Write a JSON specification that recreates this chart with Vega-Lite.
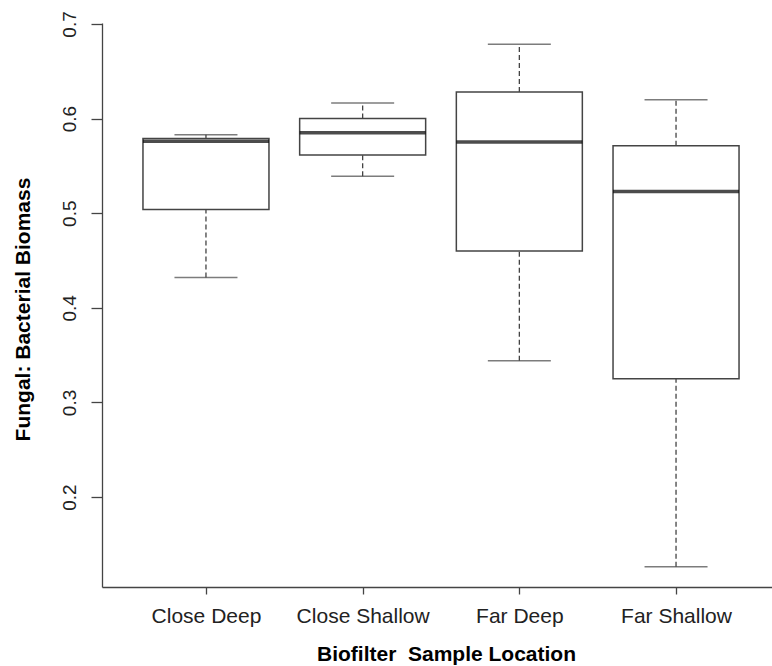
{
  "$schema": "https://vega.github.io/schema/vega-lite/v6.json",
  "width": 670,
  "height": 564,
  "autosize": {"type": "none"},
  "padding": {"left": 102, "top": 23, "right": 0, "bottom": 79},
  "background": "white",
  "config": {"view": {"stroke": null}, "font": "Liberation Sans"},
  "data": {"values": [
    {"loc": "Close Deep", "lo": 0.432, "q1": 0.504, "med": 0.576, "q3": 0.579, "hi": 0.583},
    {"loc": "Close Shallow", "lo": 0.539, "q1": 0.5615, "med": 0.585, "q3": 0.600, "hi": 0.6165},
    {"loc": "Far Deep", "lo": 0.344, "q1": 0.460, "med": 0.5753, "q3": 0.628, "hi": 0.6785},
    {"loc": "Far Shallow", "lo": 0.1263, "q1": 0.325, "med": 0.523, "q3": 0.5714, "hi": 0.620}
  ]},
  "encoding": {
    "x": {
      "field": "loc", "type": "nominal", "sort": null,
      "scale": {"type": "point", "padding": 0.638, "align": 0.52},
      "axis": {
        "title": "Biofilter\u00a0 Sample Location",
        "titleFontSize": 21, "titleFontWeight": "bold", "titleColor": "black",
        "titleX": 344, "titleY": 73, "titleAlign": "center", "titleBaseline": "alphabetic",
        "labelAngle": 0, "labelFontSize": 21, "labelBaseline": "alphabetic", "labelPadding": 28,
        "labelColor": "#222", "tickSize": 7, "tickColor": "#444", "domainColor": "#444",
        "tickWidth": 1.3, "domainWidth": 1.3, "grid": false
      }
    }
  },
  "layer": [
    {
      "mark": {"type": "rule", "strokeDash": [5, 3], "color": "#444", "strokeWidth": 1.3},
      "encoding": {
        "y": {
          "field": "lo", "type": "quantitative",
          "scale": {"domain": [0.105, 0.701], "nice": false, "zero": false},
          "axis": {
            "values": [0.2, 0.3, 0.4, 0.5, 0.6, 0.7], "format": ".1f",
            "title": "Fungal: Bacterial Biomass",
            "titleFontSize": 21, "titleFontWeight": "bold", "titleColor": "black",
            "titleAngle": 270, "titleX": -73, "titleY": 286, "titleAlign": "center", "titleBaseline": "alphabetic",
            "labelAngle": 270, "labelAlign": "center", "labelBaseline": "alphabetic",
            "labelFontSize": 19, "labelPadding": 16, "labelColor": "#222",
            "tickSize": 11, "tickColor": "#444", "domainColor": "#444",
            "tickWidth": 1.3, "domainWidth": 1.3, "grid": false
          }
        },
        "y2": {"field": "q1"}
      }
    },
    {
      "mark": {"type": "rule", "strokeDash": [5, 3], "color": "#444", "strokeWidth": 1.3},
      "encoding": {"y": {"field": "q3", "type": "quantitative"}, "y2": {"field": "hi"}}
    },
    {
      "mark": {"type": "tick", "orient": "horizontal", "size": 63, "thickness": 1.5, "color": "#444"},
      "encoding": {"y": {"field": "lo", "type": "quantitative"}}
    },
    {
      "mark": {"type": "tick", "orient": "horizontal", "size": 63, "thickness": 1.5, "color": "#444"},
      "encoding": {"y": {"field": "hi", "type": "quantitative"}}
    },
    {
      "mark": {"type": "bar", "width": 126, "fill": "white", "stroke": "#444", "strokeWidth": 1.5},
      "encoding": {"y": {"field": "q1", "type": "quantitative"}, "y2": {"field": "q3"}}
    },
    {
      "mark": {"type": "tick", "orient": "horizontal", "size": 126, "thickness": 3.5, "color": "black"},
      "encoding": {"y": {"field": "med", "type": "quantitative"}}
    }
  ]
}
